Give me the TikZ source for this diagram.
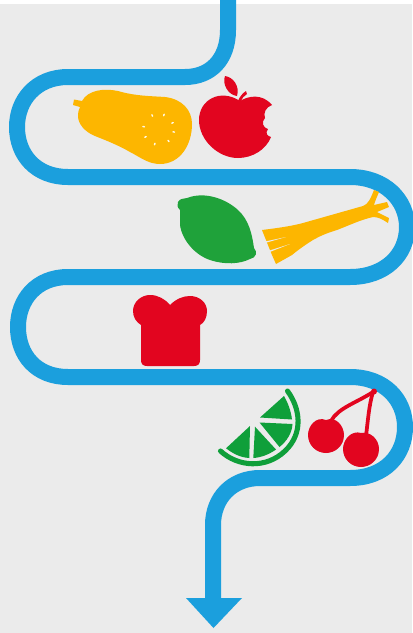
\documentclass[tikz,border=0pt]{standalone}
\definecolor{pipe}{HTML}{1B9FDD}
\definecolor{bgg}{HTML}{EBEBEB}
\definecolor{squash}{HTML}{FDB600}
\definecolor{fruitred}{HTML}{E2051F}
\definecolor{limeg}{HTML}{1FA23A}
\definecolor{citrus}{HTML}{0F9F3A}
\tikzset{
  x=0.75pt,y=-0.75pt,
  pipeline/.style={draw=pipe,line width=12pt,line join=round},
  redfill/.style={fill=fruitred},
  yellowfill/.style={fill=squash},
  wedge/.style={fill=citrus},
  seed/.style={draw=white!90!squash,line width=1.1pt,line cap=round},
  stemline/.style={draw=fruitred,line width=2.8pt,line cap=round}
}
\begin{document}
\begin{tikzpicture}
\useasboundingbox (0,0) rectangle (412,633);
\fill[white] (0,0) rectangle (412,633);
\fill[bgg] (0,4) rectangle (412,633);
% pipe
\draw[pipeline] (228,0) -- (228,30)
  .. controls (228,60) and (210,77) .. (185,77)
  -- (68,77)
  .. controls (36,77) and (17,100) .. (17,127)
  .. controls (17,155) and (36,177) .. (68,177)
  -- (350,177)
  .. controls (385,177) and (407,200) .. (407,227)
  .. controls (407,255) and (385,277) .. (350,277)
  -- (68,277)
  .. controls (36,277) and (18,300) .. (18,327)
  .. controls (18,355) and (36,377) .. (68,377)
  -- (350,377)
  .. controls (385,377) and (405,400) .. (405,427)
  .. controls (405,455) and (385,478) .. (350,478)
  -- (260,478)
  .. controls (232,478) and (213,498) .. (213,525)
  -- (213,600);
\fill[pipe] (186,598) -- (242,598) -- (213.5,628) -- cycle;
% squash
\fill[yellowfill] (73,105) -- (74,99.5) -- (82,101)
  .. controls (88,90) and (104,88) .. (118,91)
  .. controls (135,96) and (150,96) .. (165,97)
  .. controls (182,99) and (192,110) .. (192,124)
  .. controls (192,145) and (180,164) .. (160,164)
  .. controls (148,164) and (140,157) .. (130,152)
  .. controls (118,145) and (105,140) .. (95,136)
  .. controls (85,132) and (78,124) .. (78,116)
  .. controls (78,112) and (79,109) .. (80,107) -- cycle;
\foreach \a in {-115,-70,-25,10,50,105,150,190}
  \draw[seed] (158.7,129.3) ++(\a:14.5) -- ++(\a:1.5);
% apple
\fill[redfill] (240,101)
  .. controls (248,96) and (262,93) .. (272,105)
  .. controls (266,107) and (263,113) .. (265,118)
  .. controls (261,122) and (263,128) .. (268,129)
  .. controls (265,133) and (267,136) .. (271,137)
  .. controls (266,150) and (252,158) .. (238,158)
  .. controls (218,158) and (199,140) .. (199,120)
  .. controls (199,100) and (220,88) .. (240,101) -- cycle;
\fill[redfill] (225,76) .. controls (233,77) and (240,86) .. (237,96)
  .. controls (228,95) and (222,84) .. (225,76) -- cycle;
\fill[redfill] (238,101) .. controls (240,96) and (243,93) .. (246,91) -- (247,94)
  .. controls (244,96) and (242,98) .. (241,101) -- cycle;
% lime
\fill[limeg] (178,202) .. controls (180,198) and (184,199) .. (187,198)
  .. controls (205,191) and (226,199) .. (238,210)
  .. controls (249,220) and (252,234) .. (254,248)
  .. controls (258,252) and (256,258) .. (250,259)
  .. controls (240,264) and (225,265) .. (210,260)
  .. controls (195,255) and (182,240) .. (180,225)
  .. controls (180,218) and (180,213) .. (180,210)
  .. controls (177,207) and (177,205) .. (178,202) -- cycle;
% leek
\fill[yellowfill] (262,230)
  .. controls (278,228) and (292,226) .. (303,223)
  -- (363,206) .. controls (368,204) and (370,200) .. (374,190)
  -- (379,192) .. controls (377,197) and (375,201) .. (374,205)
  -- (387,202) -- (389,207) -- (377,212) -- (389,218) -- (388,223)
  .. controls (382,219) and (378,217) .. (373,217)
  .. controls (360,220) and (350,225) .. (337,230)
  .. controls (327,233) and (320,236) .. (313,240)
  .. controls (305,245) and (298,250) .. (292,255)
  -- (276,264) -- (272,255) -- (268,245) -- cycle;
\fill[bgg] (286,237) -- (265,241.5) -- (265,243) -- cycle;
\fill[bgg] (290,244) -- (268,251) -- (268.5,252.5) -- cycle;
% bread
\fill[redfill] (170,305)
  .. controls (176,299) and (183,296) .. (190,296)
  .. controls (200,296) and (207,303) .. (207,311)
  .. controls (207,318) and (204,323) .. (200,325)
  -- (200,360) .. controls (200,364) and (198,366) .. (194,366)
  -- (147,366) .. controls (143,366) and (141,364) .. (141,360)
  -- (141,325) .. controls (136,322) and (133,317) .. (133,311)
  .. controls (133,302) and (141,295) .. (150,295)
  .. controls (158,295) and (165,299) .. (170,305) -- cycle;
% citrus
\draw[draw=citrus,line width=3.8pt,line cap=round]
  (287.5,391) .. controls (300,408) and (304,433) .. (285,451)
  .. controls (266,469) and (238,467) .. (220.5,451);
\fill[wedge] (260,417.5) -- (284,396) .. controls (288,403) and (291,411) .. (292,419.5) -- cycle;
\fill[wedge] (259.5,422.5) -- (292.5,424) .. controls (292,433) and (287,441) .. (279.5,447) -- cycle;
\fill[wedge] (255,426.7) -- (276,449.5) .. controls (269,454.5) and (261,457.5) .. (253.3,458) -- cycle;
\fill[wedge] (250,426) -- (249.3,458) .. controls (240,457.5) and (233,453.5) .. (226,448.3) -- cycle;
% cherries
\fill[redfill] (326,420) .. controls (336,416) and (344,426) .. (344,435)
  .. controls (344,446) and (335,453) .. (326,453)
  .. controls (316,453) and (308,445) .. (308,435)
  .. controls (308,426) and (316,416) .. (326,420) -- cycle;
\fill[redfill] (361,433) .. controls (370,431) and (379,439) .. (379,449)
  .. controls (379,460) and (370,467) .. (361,467)
  .. controls (351,467) and (343,459) .. (343,449)
  .. controls (343,439) and (352,430) .. (361,433) -- cycle;
\draw[stemline] (331,421) .. controls (338,408) and (356,403) .. (373,392);
\draw[stemline] (373,392) .. controls (369,405) and (368,420) .. (366,436);
\fill[redfill] (374,391.5) circle (3);
\end{tikzpicture}
\end{document}
